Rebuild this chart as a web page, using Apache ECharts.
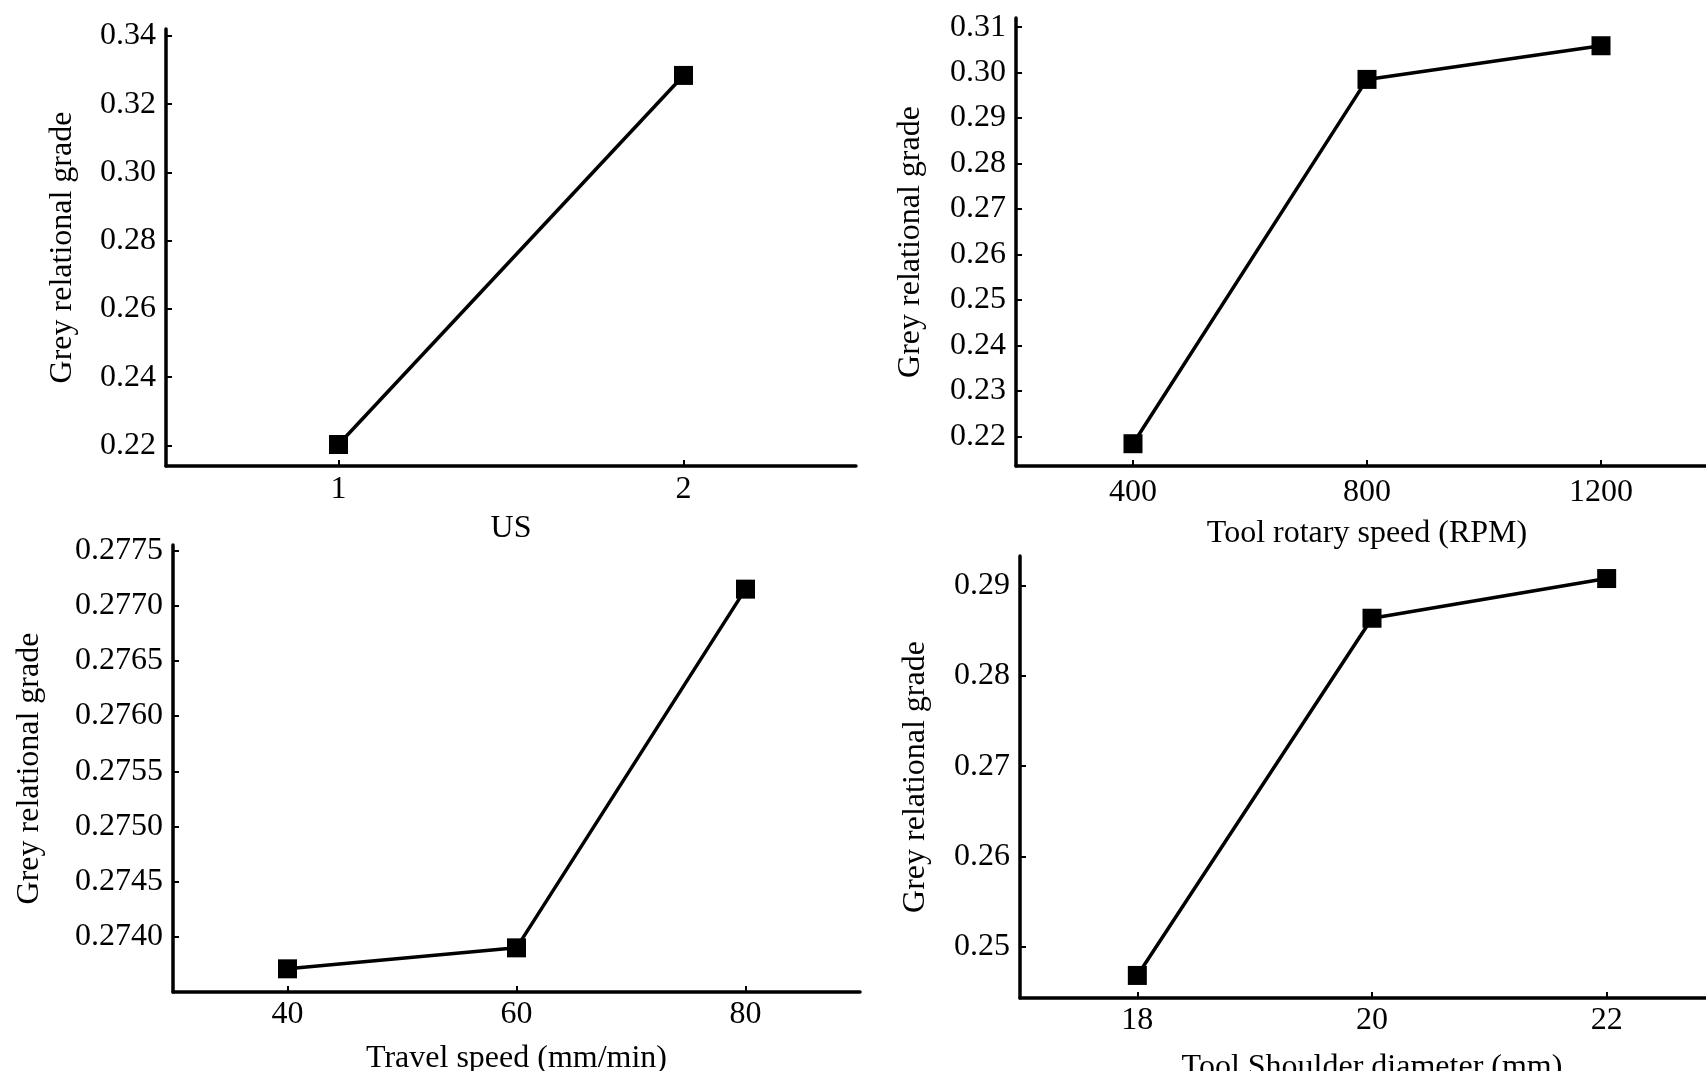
<!DOCTYPE html>
<html>
<head>
<meta charset="utf-8">
<script src="https://cdn.jsdelivr.net/npm/echarts@6/dist/echarts.min.js"></script>
<style>
html,body{margin:0;padding:0;background:#fff;}
#c{width:1706px;height:1071px;}
</style>
</head>
<body>
<div id="c"></div>
<script>
// ---- data ----
const usLevels = [1, 2];
const usGrade = [0.2203, 0.3284];
const usYTicks = [0.22, 0.24, 0.26, 0.28, 0.30, 0.32, 0.34];

const rpmLevels = [400, 800, 1200];
const rpmGrade = [0.2184, 0.2985, 0.3059];
const rpmYTicks = [0.22, 0.23, 0.24, 0.25, 0.26, 0.27, 0.28, 0.29, 0.30, 0.31];

const travelLevels = [40, 60, 80];
const travelGrade = [0.27371, 0.27390, 0.27715];
const travelYTicks = [0.2740, 0.2745, 0.2750, 0.2755, 0.2760, 0.2765, 0.2770, 0.2775];

const shoulderLevels = [18, 20, 22];
const shoulderGrade = [0.2468, 0.2864, 0.2908];
const shoulderYTicks = [0.25, 0.26, 0.27, 0.28, 0.29];

const yName = 'Grey relational grade';
const xNames = ['US', 'Tool rotary speed (RPM)', 'Travel speed (mm/min)', 'Tool Shoulder diameter (mm)'];

// ---- chart ----
const FONT = '"Liberation Serif", "Times New Roman", serif';
const chart = echarts.init(document.getElementById('c'), null, {renderer: 'canvas'});

function xAxis(idx, min, max, ticks, name, labelMargin, nameGap) {
  return {
    type: 'value', gridIndex: idx, min: min, max: max,
    name: name, nameLocation: 'middle', nameGap: nameGap,
    nameTextStyle: {fontFamily: FONT, fontSize: 32, color: '#000'},
    axisLine: {show: true, onZero: false, lineStyle: {color: '#000', width: 3.5}},
    axisTick: {show: true, inside: true, length: 6, lineStyle: {color: '#000', width: 2}, customValues: ticks},
    axisLabel: {show: true, margin: labelMargin, fontFamily: FONT, fontSize: 32, color: '#000', customValues: ticks,
      formatter: v => String(v)},
    splitLine: {show: false}
  };
}
function yAxis(idx, min, max, ticks, digits, nameGap) {
  return {
    type: 'value', gridIndex: idx, min: min, max: max,
    name: yName, nameLocation: 'middle', nameGap: nameGap,
    nameTextStyle: {fontFamily: FONT, fontSize: 32, color: '#000'},
    axisLine: {show: true, onZero: false, lineStyle: {color: '#000', width: 3.5}},
    axisTick: {show: true, inside: true, length: 6, lineStyle: {color: '#000', width: 2}, customValues: ticks},
    axisLabel: {show: true, margin: 10, fontFamily: FONT, fontSize: 32, color: '#000', customValues: ticks,
      formatter: v => Number(v).toFixed(digits)},
    splitLine: {show: false}
  };
}
function series(idx, xs, ys) {
  return {
    type: 'line', xAxisIndex: idx, yAxisIndex: idx,
    data: xs.map((x, i) => [x, ys[i]]),
    symbol: 'rect', symbolSize: 19, showSymbol: true,
    lineStyle: {color: '#000', width: 3.5},
    itemStyle: {color: '#000'},
    silent: true, animation: false, z: 3
  };
}

const option = {
  backgroundColor: '#fff',
  animation: false,
  grid: [
    {left: 166, top: 29, width: 690, height: 437, containLabel: false, outerBoundsMode: 'none'},
    {left: 1016, top: 18, width: 702, height: 448, containLabel: false, outerBoundsMode: 'none'},
    {left: 173, top: 545, width: 687, height: 447, containLabel: false, outerBoundsMode: 'none'},
    {left: 1020, top: 556, width: 704, height: 442, containLabel: false, outerBoundsMode: 'none'}
  ],
  xAxis: [
    xAxis(0, 0.5, 2.5, usLevels, xNames[0], 8, 47),
    xAxis(1, 200, 1400, rpmLevels, xNames[1], 11, 52),
    xAxis(2, 30, 90, travelLevels, xNames[2], 7, 51),
    xAxis(3, 17, 23, shoulderLevels, xNames[3], 7, 54)
  ],
  yAxis: [
    yAxis(0, 0.214, 0.342, usYTicks, 2, 87),
    yAxis(1, 0.2135, 0.312, rpmYTicks, 2, 89),
    yAxis(2, 0.2735, 0.27755, travelYTicks, 4, 127),
    yAxis(3, 0.2443, 0.2933, shoulderYTicks, 2, 88)
  ],
  series: [
    series(0, usLevels, usGrade),
    series(1, rpmLevels, rpmGrade),
    series(2, travelLevels, travelGrade),
    series(3, shoulderLevels, shoulderGrade)
  ]
};
chart.setOption(option);
</script>
</body>
</html>
